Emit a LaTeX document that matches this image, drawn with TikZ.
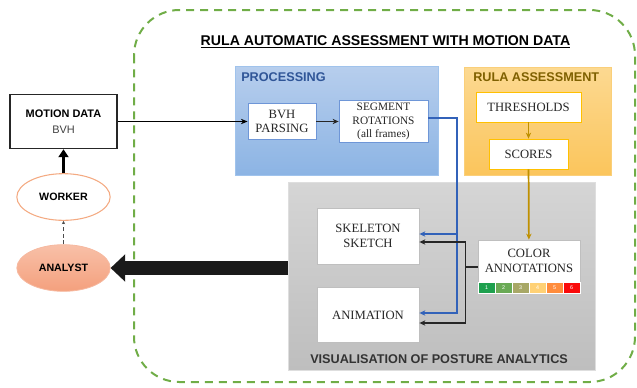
\documentclass[tikz,border=0pt]{standalone}
\usepackage{fontspec}
\setmainfont{Liberation Serif}
\setsansfont{Liberation Sans}
\usetikzlibrary{shapes.geometric}
\usetikzlibrary{arrows.meta}
\usetikzlibrary{calc}
\definecolor{frameGreen}{RGB}{112,173,71}
\definecolor{procTop}{RGB}{183,206,237}
\definecolor{procBottom}{RGB}{140,180,228}
\definecolor{procEdge}{RGB}{160,195,236}
\definecolor{procText}{RGB}{47,85,151}
\definecolor{procInner}{RGB}{110,150,215}
\definecolor{rulaTop}{RGB}{252,217,145}
\definecolor{rulaBottom}{RGB}{251,197,92}
\definecolor{rulaEdge}{RGB}{250,207,122}
\definecolor{rulaText}{RGB}{127,96,0}
\definecolor{rulaInner}{RGB}{255,192,0}
\definecolor{visTop}{RGB}{213,213,213}
\definecolor{visBottom}{RGB}{190,190,190}
\definecolor{visEdge}{RGB}{222,222,222}
\definecolor{blueLine}{RGB}{50,98,185}
\definecolor{goldLine}{RGB}{191,144,0}
\definecolor{workerEdge}{RGB}{244,170,130}
\definecolor{analystEdge}{RGB}{246,185,160}
\definecolor{analystTop}{RGB}{248,192,168}
\definecolor{analystBottom}{RGB}{244,160,125}
\definecolor{bigArrow}{RGB}{26,26,26}
\definecolor{score1}{RGB}{30,160,78}
\definecolor{score2}{RGB}{106,170,85}
\definecolor{score3}{RGB}{168,168,102}
\definecolor{score4}{RGB}{255,209,117}
\definecolor{score5}{RGB}{255,140,60}
\definecolor{score6}{RGB}{250,10,10}
\begin{document}
\begin{tikzpicture}[x=0.75pt,y=0.75pt,yscale=-1,xscale=1,
  textbox/.style={draw, fill=white, align=center, inner sep=1pt, text=black!85, font=\fontsize{9.5}{11}\selectfont},
  procitem/.style={textbox, draw=procInner, line width=0.6pt},
  rulaitem/.style={textbox, draw=rulaInner, line width=0.6pt},
  visitem/.style={textbox, draw=black!25, line width=0.6pt},
  panel/.style={draw, line width=0.6pt, inner sep=0pt},
  panellabel/.style={anchor=north west, inner sep=0.75pt, font=\sffamily\bfseries\fontsize{9.5}{11}\selectfont},
  cell/.style={draw=white, line width=0.3pt, minimum width=12.75pt, minimum height=8.25pt, inner sep=0pt, text=white, font=\sffamily\fontsize{4}{4}\selectfont},
  wire/.style={line width=1.3pt, -{Stealth[length=4.5pt,width=4pt]}}
]
\useasboundingbox (0,0) rectangle (637,387);

%Rounded Rect
\draw [frameGreen, line width=1.5pt, dash pattern=on 6pt off 4.5pt, rounded corners=34pt] (134,10) rectangle (635,382);
% Text Node
\node (title) [anchor=base, inner sep=0.75pt, font=\sffamily\bfseries\fontsize{10.6}{12}\selectfont] at (385.5,45) {\underline{RULA AUTOMATIC ASSESSMENT WITH MOTION DATA}};

%Shape: Rectangle
\node (proc) [panel, draw=procEdge, top color=procTop, bottom color=procBottom, minimum width=152.25pt, minimum height=81.75pt] at (336.5,120.5) {};
%Shape: Rectangle
\node (rula) [panel, draw=rulaEdge, top color=rulaTop, bottom color=rulaBottom, minimum width=110.25pt, minimum height=81pt] at (537.5,121) {};
%Shape: Rectangle
\node (vis) [panel, draw=visEdge, top color=visTop, bottom color=visBottom, minimum width=230.25pt, minimum height=141pt] at (441.5,276) {};

% Text Node
\node (procLabel) [panellabel, text=procText] at (240,71) {PROCESSING};
% Text Node
\node (rulaLabel) [panellabel, text=rulaText] at (472,71) {RULA ASSESSMENT};
% Text Node
\node (visLabel) [panellabel, text=black!80] at (309,353) {VISUALISATION OF POSTURE ANALYTICS};

%Shape: Rectangle
\node (bvh) [procitem, minimum width=51pt, minimum height=27pt] at (282,121.5) {BVH\\PARSING};
\node (seg) [procitem, minimum width=66.75pt, minimum height=31.5pt, font=\fontsize{8.5}{10}\selectfont] at (383.5,121.5) {SEGMENT\\ROTATIONS\\(all frames)};
\node (thr) [rulaitem, minimum width=78.75pt, minimum height=22.5pt] at (528.5,107) {THRESHOLDS};
\node (scores) [rulaitem, minimum width=59.25pt, minimum height=22.5pt] at (528.5,154) {SCORES};
\node (skel) [visitem, minimum width=76.5pt, minimum height=42pt] at (368,236) {SKELETON\\SKETCH};
\node (anim) [visitem, minimum width=76.5pt, minimum height=41.25pt] at (368,315) {ANIMATION};
\node (color) [visitem, minimum width=76.5pt, minimum height=31.5pt] at (529,261) {COLOR\\ANNOTATIONS};
%Color scale
\foreach \i in {1,...,6}
  \node (bar\i) [cell, fill=score\i] at ({469.5+17*\i},287.5) {\i};

%Shape: Rectangle
\node (motion) [draw=black!85, line width=1.1pt, fill=white, align=center, minimum width=80.25pt, minimum height=40.5pt, font=\sffamily\fontsize{8.2}{12}\selectfont] at (63.5,121.5) {\textbf{MOTION DATA}\\\textcolor{black!75}{BVH}};
%Shape: Ellipse
\node (worker) [ellipse, draw=workerEdge, line width=0.8pt, fill=white, minimum width=70pt, minimum height=35pt, font=\sffamily\bfseries\fontsize{8}{10}\selectfont] at (63.5,197) {WORKER};
%Shape: Ellipse
\node (analyst) [ellipse, draw=analystEdge, line width=0.6pt, top color=analystTop, bottom color=analystBottom, minimum width=70pt, minimum height=35pt, font=\sffamily\bfseries\fontsize{8}{10}\selectfont] at (63.5,268) {ANALYST};

%Straight Lines
\draw [line width=0.7pt, -{Stealth[length=5pt,width=4pt]}] (motion) -- (bvh);
\draw [wire, black!85] (bvh) -- (seg);
\draw [wire, goldLine, line width=1pt] (thr) -- (scores);
\draw [wire, goldLine] (scores) -- (color);
\draw [wire, blueLine, line width=1.5pt] ($(seg.east)+(0,-4)$) -| ($(anim.east)+(38,-2)$) -- ($(anim.east)+(0,-2)$);
\draw [wire, blueLine] ($(skel.east)+(38,-2)$) -- ($(skel.east)+(0,-2)$);
\draw [wire, black!85] ($(color.west)+(0,6)$) -- ++(-12,0) |- ($(skel.east)+(0,6)$);
\draw [wire, black!85] ($(color.west)+(0,6)$) -- ++(-12,0) |- ($(anim.east)+(0,8)$);
\draw [line width=2.25pt, -{Triangle[length=6pt,width=7.5pt]}] (worker) -- (motion);
\draw [black!70, line width=0.8pt, dash pattern=on 3pt off 2pt, -{Stealth[length=2.5pt,width=2.5pt]}] (analyst) -- (worker);
\draw [bigArrow, line width=10.5pt, -{Triangle[length=11pt,width=20pt]}] (vis.west |- analyst) -- (analyst);

\end{tikzpicture}
\end{document}
